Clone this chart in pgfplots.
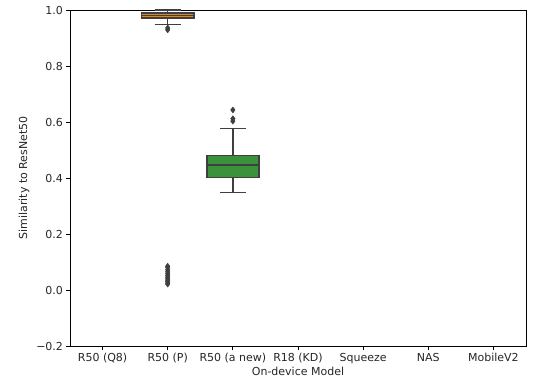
\documentclass[border=0pt]{standalone}
\usepackage{pgfplots}
\pgfplotsset{compat=1.18}
\usepgfplotslibrary{statistics}
\usepackage{fontspec}
\setmainfont{DejaVu Sans}
\definecolor{lc}{HTML}{3F3F3F}
\definecolor{sorange}{HTML}{E1812C}
\definecolor{sgreen}{HTML}{3A923A}
\begin{document}
\begin{tikzpicture}
\begin{axis}[
  boxplot/draw direction=y,
  scale only axis, width=456pt, height=336pt,
  xmin=-0.5, xmax=6.5, ymin=-0.2, ymax=1.0,
  xtick={0,1,2,3,4,5,6},
  xticklabels={R50 (Q8),R50 (P),R50 (a new),R18 (KD),Squeeze,NAS,MobileV2},
  ytick={-0.2,0,0.2,0.4,0.6,0.8,1.0},
  yticklabels={−0.2,0.0,0.2,0.4,0.6,0.8,1.0},
  tick align=outside, tick pos=left, major tick length=3.5pt,
  tick style={black, line width=0.8pt},
  axis line style={line width=0.8pt},
  tick label style={font=\fontsize{11}{13}\selectfont, text=black!85},
  label style={font=\fontsize{11}{13}\selectfont, text=black!85},
  xlabel={On-device Model},
  ylabel={Similarity to ResNet50},
  xlabel style={yshift=3pt},
  clip=false,
]
\addplot[boxplot prepared={draw position=1, lower whisker=0.949, lower quartile=0.971,
  median=0.980, upper quartile=0.989, upper whisker=1.0, box extend=0.8, whisker extend=0.4},
  draw=lc, fill=sorange, line width=1.5pt,
  mark=diamond*, mark size=3pt, mark options={fill=lc, draw=lc, line width=0.4pt}]
  table[row sep=\\, y index=0]{data\\0.936\\0.929\\0.085\\0.080\\0.072\\0.065\\0.058\\0.052\\0.046\\0.040\\0.035\\0.030\\0.025\\0.021\\};
\addplot[boxplot prepared={draw position=2, lower whisker=0.349, lower quartile=0.401,
  median=0.446, upper quartile=0.481, upper whisker=0.576, box extend=0.8, whisker extend=0.4},
  draw=lc, fill=sgreen, line width=1.5pt,
  mark=diamond*, mark size=3pt, mark options={fill=lc, draw=lc, line width=0.4pt}]
  table[row sep=\\, y index=0]{data\\0.643\\0.612\\0.603\\};
\end{axis}
\path ([shift={(-70pt,-40pt)}]current axis.south west) rectangle ([shift={(10pt,10pt)}]current axis.north east);
\end{tikzpicture}
\end{document}
